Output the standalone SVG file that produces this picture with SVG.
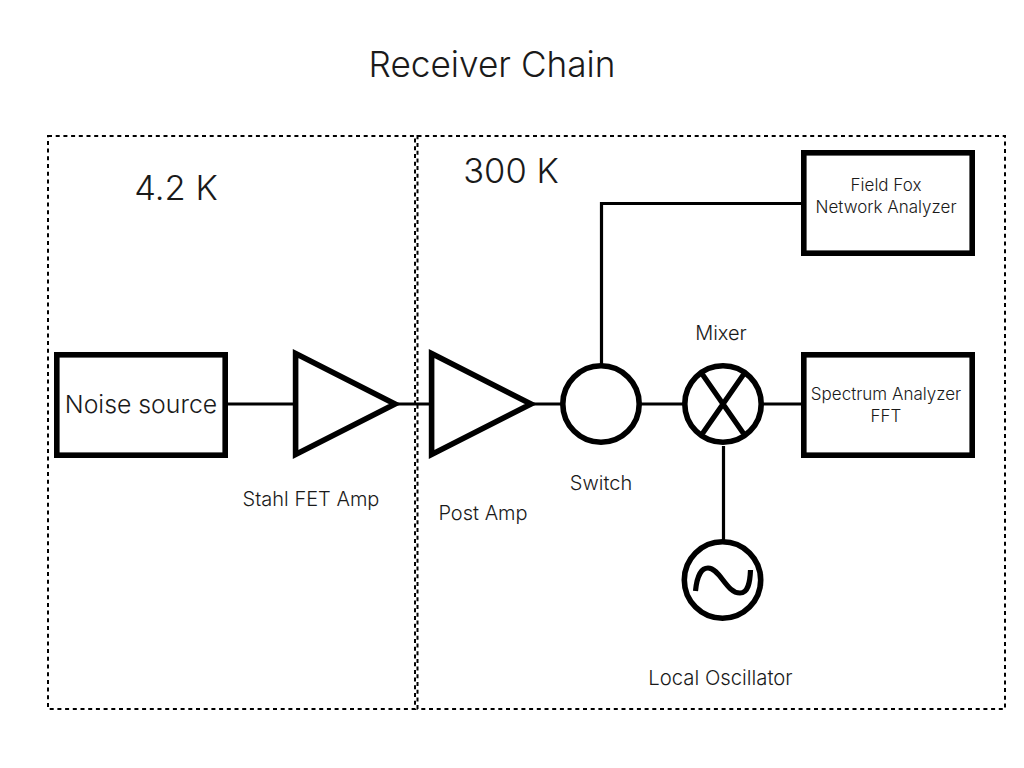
<svg xmlns="http://www.w3.org/2000/svg" width="1024" height="768" viewBox="0 0 1024 768">
  <style>
    text { font-family: "Inter", "Liberation Sans", sans-serif; font-weight: 300; fill: #1a1a1a; text-anchor: middle; }
    .zone { fill: none; stroke: #000; stroke-width: 2; stroke-dasharray: 4 3.700; }
    .wire { fill: none; stroke: #000; stroke-width: 3.200; }
    .sym { fill: #fff; stroke: #000; stroke-width: 5.600; }
    .sym2 { fill: none; stroke: #000; stroke-width: 5.200; }
    .s { font-size: 17px; }
    .m { font-size: 20px; }
    .l { font-size: 24.800px; }
    .xl { font-size: 34.500px; }
    .h { font-size: 35.200px; }
  </style>

  <text class="h" x="492" y="77">Receiver Chain</text>

  <g id="zone-cold">
    <rect class="zone" x="48" y="136" width="367" height="573"/>
    <text class="xl" x="176" y="200">4.2 K</text>
  </g>
  <g id="zone-room">
    <rect class="zone" x="417.500" y="136" width="587.500" height="573"/>
    <text class="xl" x="511" y="183">300 K</text>
  </g>

  <!-- Signal path and branches -->
  <g id="connectors">
    <path class="wire" d="M228 404H294"/>
    <path class="wire" d="M392 404H431"/>
    <path class="wire" d="M528 404H562"/>
    <path class="wire" d="M640 404H684"/>
    <path class="wire" d="M762 404H803"/>
    <path class="wire" d="M601.500 364V203.500H803"/>
    <path class="wire" d="M723.500 446V542"/>
  </g>

  <g id="noise-source">
    <rect class="sym" x="56.800" y="354.800" width="168.400" height="100.400"/>
    <text class="l" x="141" y="413">Noise source</text>
  </g>
  <g id="stahl-fet-amp">
    <path class="sym" d="M295.600 353.600L395 404L295.600 454.400Z"/>
    <text class="m" x="311" y="505.500">Stahl FET Amp</text>
  </g>
  <g id="post-amp">
    <path class="sym" d="M431.600 353.600L531 404L431.600 454.400Z"/>
    <text class="m" x="483" y="519.500">Post Amp</text>
  </g>
  <g id="switch">
    <circle class="sym" cx="601" cy="404" r="38.200"/>
    <text class="m" x="601" y="490">Switch</text>
  </g>
  <g id="mixer">
    <circle class="sym" cx="723" cy="404" r="38.200"/>
    <path class="sym2" d="M702.500 374.500L743.500 433.500M743.500 374.500L702.500 433.500"/>
    <text class="m" x="721" y="340">Mixer</text>
  </g>
  <g id="local-oscillator">
    <circle class="sym" cx="722.500" cy="580" r="38.200"/>
    <path class="sym2" d="M695.500 591C697 575 702 568 708 568C720 568 726 593 740 593C748 593 750 583 750.500 570"/>
    <text class="m" x="720.500" y="685" style="font-size:20.300px">Local Oscillator</text>
  </g>
  <g id="field-fox">
    <rect class="sym" x="803.800" y="152.800" width="168.400" height="100.400"/>
    <text class="s" x="886" y="191">Field Fox</text>
    <text class="s" x="886" y="213">Network Analyzer</text>
  </g>
  <g id="spectrum-analyzer">
    <rect class="sym" x="803.800" y="354.800" width="168.400" height="100.400"/>
    <text class="s" x="886" y="400">Spectrum Analyzer</text>
    <text class="s" x="886" y="422">FFT</text>
  </g>
</svg>
